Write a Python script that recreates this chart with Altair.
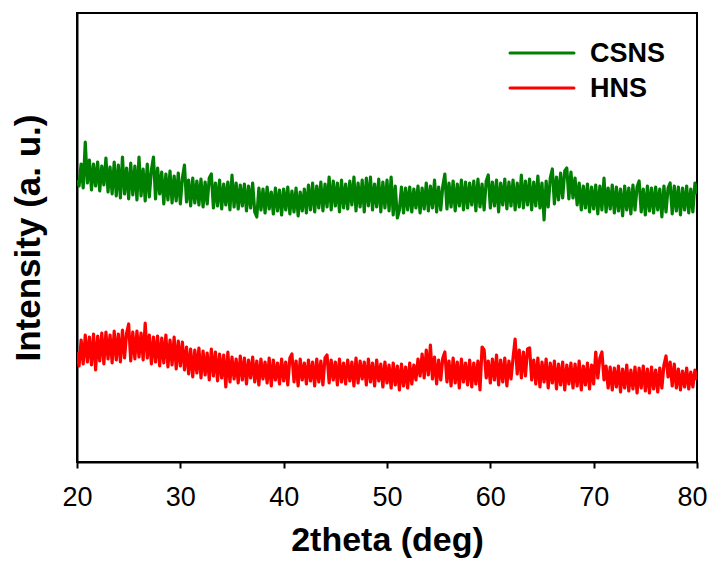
import altair as alt
import pandas as pd

# 2theta sampling: 20.0 .. 80.0 every 0.2 deg
theta_start = 20.0
theta_step = 0.2

series_names = ["CSNS", "HNS"]
series_colors = ["#008000", "#ff0000"]

csns = [
    282, 276, 298, 274, 320, 279, 302, 272, 298, 276,
    300, 271, 296, 277, 304, 270, 295, 268, 300, 266,
    297, 264, 305, 268, 294, 263, 299, 267, 296, 262,
    305, 266, 293, 261, 298, 265, 292, 305, 263, 294,
    268, 290, 258, 288, 262, 291, 259, 286, 261, 289,
    258, 284, 297, 260, 282, 256, 284, 259, 281, 257,
    283, 255, 280, 258, 284, 288, 254, 279, 256, 282,
    253, 278, 257, 280, 252, 287, 255, 279, 253, 277,
    256, 278, 251, 276, 254, 279, 250, 245, 274, 252,
    273, 249, 275, 253, 270, 248, 274, 251, 272, 247,
    273, 252, 275, 248, 271, 250, 274, 246, 270, 251,
    273, 249, 277, 252, 279, 250, 276, 254, 280, 251,
    278, 255, 285, 252, 281, 256, 279, 250, 282, 254,
    278, 253, 281, 257, 285, 251, 279, 255, 282, 250,
    284, 256, 285, 252, 278, 255, 283, 250, 280, 254,
    282, 251, 285, 247, 276, 244, 252, 275, 249, 274,
    252, 275, 250, 273, 254, 276, 249, 274, 253, 279,
    251, 276, 254, 282, 250, 275, 252, 276, 288, 253,
    279, 255, 281, 251, 278, 256, 282, 252, 280, 254,
    279, 257, 281, 251, 283, 255, 278, 252, 281, 287,
    254, 280, 256, 282, 250, 279, 257, 283, 253, 280,
    256, 282, 252, 279, 255, 287, 254, 281, 257, 283,
    252, 280, 256, 286, 254, 279, 242, 281, 255, 284,
    293, 258, 285, 262, 289, 264, 291, 294, 263, 290,
    264, 284, 257, 279, 252, 276, 254, 278, 250, 275,
    253, 277, 248, 276, 252, 284, 250, 274, 253, 277,
    249, 275, 251, 273, 246, 276, 252, 274, 248, 277,
    252, 275, 281, 250, 273, 247, 276, 251, 274, 249,
    275, 252, 273, 245, 276, 250, 274, 279, 248, 276,
    251, 275, 247, 274, 252, 276, 249, 273, 250, 279,
    268,
]

hns = [
    110, 96, 122, 98, 127, 100, 125, 97, 128, 92,
    126, 101, 129, 98, 130, 103, 127, 99, 131, 102,
    128, 100, 132, 104, 129, 138, 101, 130, 103, 131,
    105, 129, 102, 139, 104, 127, 98, 125, 100, 126,
    96, 124, 99, 127, 95, 122, 97, 125, 93, 121,
    96, 120, 92, 115, 88, 113, 85, 112, 89, 114,
    84, 111, 87, 109, 82, 113, 86, 110, 81, 108,
    84, 107, 75, 110, 80, 105, 83, 103, 79, 106,
    82, 104, 78, 102, 84, 105, 80, 101, 77, 103,
    83, 100, 79, 104, 76, 102, 82, 99, 78, 103,
    81, 100, 77, 104, 108, 80, 101, 76, 103, 82,
    99, 78, 102, 81, 100, 76, 103, 80, 101, 77,
    104, 107, 79, 102, 82, 100, 77, 103, 80, 99,
    78, 102, 81, 100, 76, 104, 79, 101, 83, 100,
    77, 103, 80, 99, 76, 102, 81, 98, 75, 100,
    79, 97, 74, 99, 77, 96, 72, 98, 76, 95,
    74, 99, 78, 97, 82, 103, 86, 108, 84, 112,
    87, 117, 83, 105, 78, 102, 82, 104, 110, 80,
    101, 76, 104, 79, 100, 74, 103, 80, 99, 77,
    102, 75, 99, 78, 101, 72, 115, 112, 84, 101,
    79, 103, 82, 107, 77, 102, 80, 104, 76, 101,
    83, 104, 123, 88, 112, 84, 110, 86, 113, 114,
    82, 102, 78, 104, 75, 100, 80, 103, 74, 99,
    79, 101, 73, 98, 77, 100, 72, 97, 78, 99,
    74, 98, 76, 101, 72, 96, 77, 99, 73, 97,
    78, 110, 84, 104, 110, 82, 96, 74, 95, 72,
    94, 75, 96, 70, 93, 74, 97, 71, 92, 73,
    95, 69, 94, 74, 96, 71, 93, 69, 95, 73,
    92, 70, 94, 74, 97, 106, 85, 100, 76, 98,
    74, 93, 72, 91, 75, 94, 73, 90, 75, 92,
    82,
]

x_ticks = [20, 30, 40, 50, 60, 70, 80]

rows = []
for name, vals in zip(series_names, [csns, hns]):
    for i, v in enumerate(vals):
        rows.append({"theta": round(theta_start + theta_step * i, 2),
                     "intensity": v, "sample": name, "order": i})
df = pd.DataFrame(rows)
legend_df = pd.DataFrame({"sample": series_names})

FONT = "Liberation Sans"
color_scale = alt.Scale(domain=series_names, range=series_colors)

lines = alt.Chart(df).mark_line(strokeWidth=3.2, strokeJoin="round", clip=True).encode(
    x=alt.X("theta:Q",
            scale=alt.Scale(domain=[20, 80], nice=False, zero=False),
            axis=alt.Axis(title="2theta (deg)", values=x_ticks, grid=False,
                          domainColor="black", domainWidth=2,
                          tickColor="black", tickWidth=2, tickSize=6,
                          labelFontSize=27, labelColor="black", labelFont=FONT,
                          labelPadding=16, labelFlush=False,
                          labelOffset={"condition": {"test": "datum.value == 80", "value": -5},
                                       "value": 0},
                          titleFont=FONT, titleFontSize=34, titleFontWeight="bold",
                          titleColor="black", titlePadding=13)),
    y=alt.Y("intensity:Q",
            scale=alt.Scale(domain=[0, 449], nice=False, zero=False),
            axis=alt.Axis(title="Intensity (a. u.)", labels=False, ticks=False,
                          grid=False, domainColor="black", domainWidth=2,
                          titleFont=FONT, titleFontSize=35, titleFontWeight="bold",
                          titleColor="black", titlePadding=31)),
    color=alt.Color("sample:N", scale=color_scale, legend=None),
    order="order:Q",
)

legend_y = alt.Y("sample:N", axis=None,
                 scale=alt.Scale(type="point", domain=series_names, range=[40, 75], padding=0))

legend_lines = alt.Chart(legend_df).mark_rule(strokeWidth=3, strokeCap="round").encode(
    x=alt.value(433), x2=alt.value(497),
    y=legend_y,
    color=alt.Color("sample:N", scale=color_scale, legend=None),
)

legend_text = alt.Chart(legend_df).mark_text(
    align="left", baseline="middle", fontSize=27, fontWeight="bold",
    font=FONT, color="black", dy=1,
).encode(
    x=alt.value(513),
    y=legend_y,
    text="sample:N",
)

chart = alt.layer(lines, legend_lines, legend_text).resolve_scale(
    y="independent"
).properties(
    width=620, height=449,
    autosize=alt.AutoSizeParams(type="none"),
    padding={"left": 69, "top": 5, "right": 11, "bottom": 98},
).configure_view(stroke="black", strokeWidth=2)

chart.save("out.html", embed_options={"renderer": "svg", "actions": False})
